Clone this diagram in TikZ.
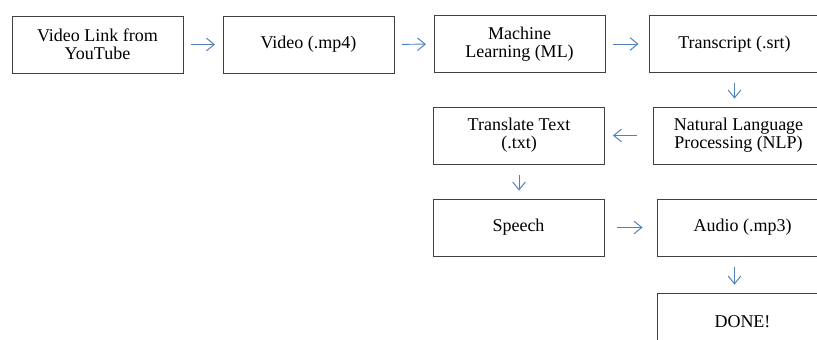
\documentclass[tikz,border=0pt]{standalone}
\usepackage{fontspec}
\setmainfont{Liberation Serif}
\usetikzlibrary{arrows.meta}
\definecolor{arrblue}{RGB}{79,129,189}

\begin{document}
\begin{tikzpicture}[x=0.025cm,y=-0.025cm,
    box/.style={draw=black!75, line width=0.6pt, minimum width=4.275cm, minimum height=1.425cm,
        align=center, inner sep=0pt, font=\fontsize{12.8}{13}\selectfont},
    arr/.style={draw=arrblue, line width=0.7pt, -{Straight Barb[length=5.5pt,width=9pt]},
        shorten <=0.19cm, shorten >=0.19cm},
    varr/.style={arr, shorten <=0.26cm, shorten >=0.2cm}]
    % 页面范围
    \useasboundingbox (0,0) rectangle (817,340);

    % 第一行
    \node[box] (link) at (97.5,44.5) {Video Link from\\YouTube};
    \node[box] (vid) at (308.5,44.5) {Video (.mp4)};
    \node[box] (ml) at (519.5,44) {Machine\\Learning (ML)};
    \node[box] (trans) at (734.5,44) {Transcript (.srt)};

    % 第二行
    \node[box] (trl) at (519,135.5) {Translate Text\\(.txt)};
    \node[box] (nlp) at (738.5,135.5) {Natural Language\\Processing (NLP)};

    % 第三行
    \node[box] (speech) at (518.5,227.5) {Speech};
    \node[box] (audio) at (742.5,227.5) {Audio (.mp3)};

    % 第四行
    \node[box] (done) at (742.5,321.5) {DONE!};

    % 箭头
    \draw[arr] (link) -- (vid);
    \draw[arr] (vid) -- (ml);
    \draw[arr, shorten <=0.2cm, shorten >=0.25cm] (ml) -- (trans);
    \draw[varr] (trans.south) -- (trans.south |- nlp.north);
    \draw[arr, shorten <=0.4cm, shorten >=0.2cm] (nlp.west) -- (nlp.west -| trl.east);
    \draw[varr] (trl.south) -- (trl.south |- speech.north);
    \draw[arr, shorten <=0.32cm, shorten >=0.35cm] (speech) -- (audio);
    \draw[varr] (trans.south |- audio.south) -- (trans.south |- done.north);

\end{tikzpicture}
\end{document}
